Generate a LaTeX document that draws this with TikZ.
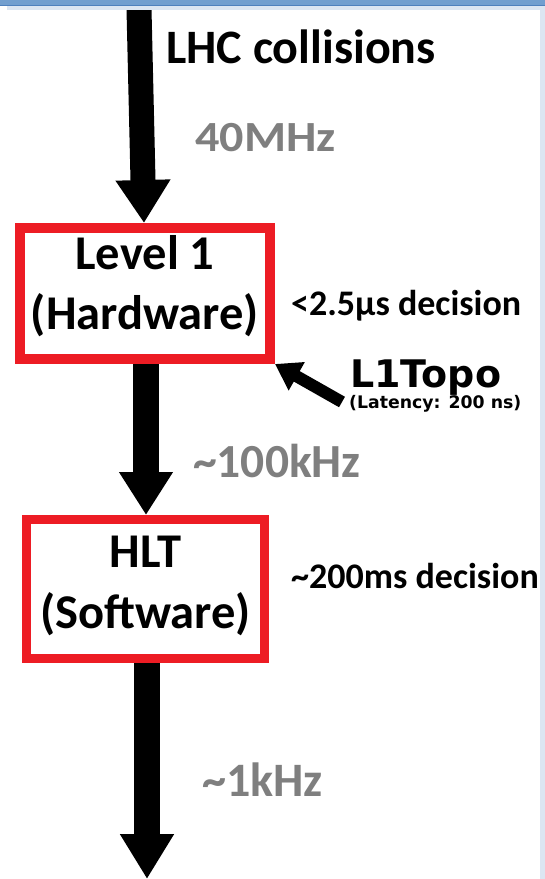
\documentclass[tikz,border=0pt]{standalone}
\usepackage{fontspec}
\setmainfont{Carlito}
\newfontfamily\dvfont{DejaVu Sans}
\usetikzlibrary{arrows.meta}
\definecolor{boxred}{RGB}{237,28,36}
\definecolor{rategray}{RGB}{127,127,127}
\definecolor{framedark}{RGB}{79,129,189}
\definecolor{framebar}{RGB}{114,159,207}
\definecolor{framelight}{RGB}{220,230,242}
\newcommand{\fsz}[2]{\fontsize{#1}{#2}\selectfont}
\begin{document}
\begin{tikzpicture}[x=1pt,y=-1pt,
  trigbox/.style={draw=boxred,line width=#1,fill=white,inner sep=0pt,align=center},
  flowarrow/.style={line width=26pt,-{Triangle[width=51pt,length=43pt]}},
  txt/.style={inner sep=0pt,anchor=base west},
  rate/.style={txt,text=rategray}]
\useasboundingbox (0,0) rectangle (545,879);
\fill[white] (0,0) rectangle (545,879);
% boxes
\node[trigbox=10pt,minimum width=250pt,minimum height=131pt,font=\bfseries\fsz{48.5}{60}] (l1) at (145,293.5)
  {Level 1\\(Hardware)\rule[-22pt]{0pt}{1pt}};
\node[trigbox=9pt,minimum width=238pt,minimum height=139pt,font=\bfseries\fsz{48.5}{61}] (hlt) at (145.5,589)
  {HLT\\(Software)\rule[-14pt]{0pt}{1pt}};
% flow arrows
\coordinate (src) at (139,9);
\coordinate (sink) at (147,879);
\draw[flowarrow,line width=25pt,-{Triangle[width=52pt,length=43pt]}] (src) -- (l1.north -| 144,0);
\draw[flowarrow] (l1.south -| 146,0) -- (hlt.north -| 146,0);
\draw[flowarrow,-{Triangle[width=51pt,length=45pt]}] (hlt.south -| 147,0) -- (sink);
% L1Topo arrow
\coordinate (topotail) at (342,402);
\draw[line width=12pt,-{Triangle[width=31pt,length=25pt]}] (topotail) -- (l1.south east);
% texts
\node[txt,font=\bfseries\fsz{48}{56}] (lhc) at (166,63) {LHC collisions};
\node[rate,font=\bfseries\fsz{43}{50},xscale=1.12] (r40) at (195,151) {40MHz};
\node[rate,font=\bfseries\fsz{47.5}{50}] (r100) at (193,477) {\textasciitilde100kHz};
\node[rate,font=\bfseries\fsz{48}{50}] (r1) at (202,796) {\textasciitilde1kHz};
\node[txt,font=\bfseries\fsz{36}{40}] (d1) at (291,315) {<2.5µs decision};
\node[txt,font=\bfseries\fsz{36}{40}] (d2) at (291,588) {\textasciitilde200ms decision};
\node[txt,font=\dvfont\bfseries\fsz{38}{40}] (topo) at (350,387) {L1Topo};
\node[txt,font=\dvfont\bfseries\fsz{17.3}{20}] (lat) at (349,408) {(Latency: 200 ns)};
% window frame
\fill[framelight] (7,6) rectangle (545,10);
\fill[framelight] (540,6) rectangle (545,879);
\fill[framebar] (0,0) rectangle (545,5);
\fill[framedark] (0,4.5) rectangle (545,6);
\end{tikzpicture}
\end{document}
